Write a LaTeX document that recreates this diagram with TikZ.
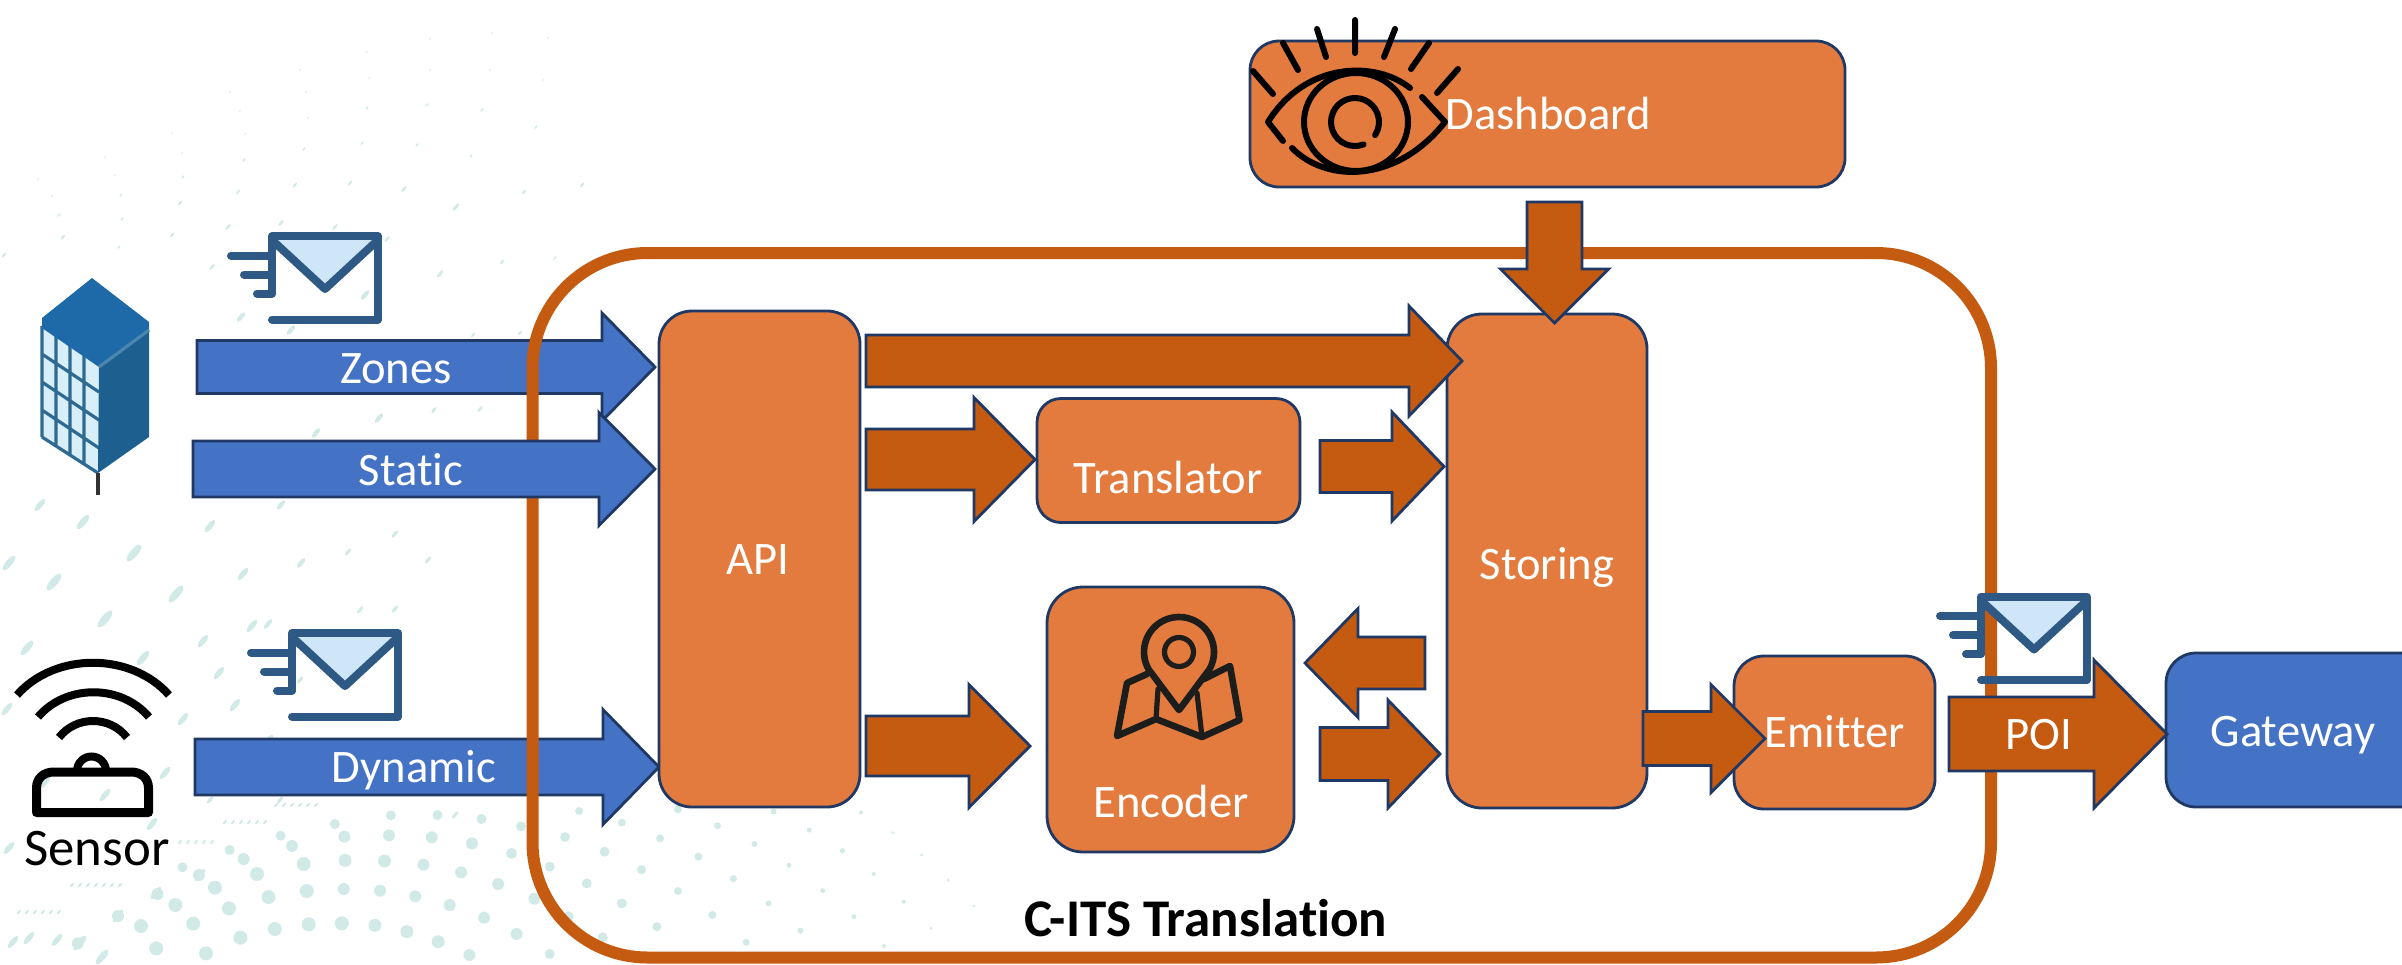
\documentclass[tikz,border=0pt]{standalone}
\usepackage{fontspec}
\setmainfont{Carlito}[Ligatures=NoCommon]
\usetikzlibrary{calc}
\definecolor{boxorange}{HTML}{E27B3D}
\definecolor{darkorange}{HTML}{C55A11}
\definecolor{boxblue}{HTML}{4472C4}
\definecolor{navy}{HTML}{203864}
\definecolor{envdark}{HTML}{2E5984}
\definecolor{envlight}{HTML}{CFE6F8}
\definecolor{dotteal}{HTML}{D2EAE7}
\definecolor{iconblack}{HTML}{1D1D1B}
\definecolor{bldglass}{HTML}{D8EFFA}
\definecolor{bldgrid}{HTML}{2F6A93}
\definecolor{bldwall}{HTML}{1D5F8E}
\definecolor{bldroof}{HTML}{1E6AA8}
\definecolor{bldedge}{HTML}{4A86AD}
\definecolor{bldpole}{HTML}{323232}
\tikzset{
  boxshape/.style={draw=navy,line width=1.4pt,inner sep=0pt,outer sep=0pt,rectangle},
  arrowshape/.style={draw=navy,line width=1.4pt,line join=miter,miter limit=10},
  orangefill/.style={fill=boxorange},
  bluefill/.style={fill=boxblue},
  darkfill/.style={fill=darkorange},
  lbl/.style={text=white,anchor=base,inner sep=0pt,font=\fontsize{23.3}{28}\selectfont},
  envline/.style={draw=envdark,line width=4pt,line cap=round,line join=round},
  eyeline/.style={draw=black,line width=3pt,line cap=round,line join=round},
  mapline/.style={draw=iconblack,line width=3.3pt,line cap=round,line join=round},
  wifi/.style={draw=black,line width=4pt},
  dotmark/.style={fill=dotteal,draw=none}
}
% name x1 y1 x2 y2 fillstyle radius(px)
\newcommand\boxnode[7]{%
  \node[boxshape,#6,rounded corners=#7*0.5pt,
    minimum width={(#4-#2)*0.5pt},minimum height={(#5-#3)*0.5pt}]
    (#1) at ({(#2+#4)/2},{(#3+#5)/2}) {};}
% start tip shafthalf headlength headhalf style (px)
\newcommand\blockarrow[6]{%
  \coordinate (hb) at ($(#2)!#4*0.5pt!(#1)$);
  \draw[arrowshape,#6]
    ($(#1)!#3*0.5pt!90:(#2)$) --
    ($(hb)!#3*0.5pt!-90:(#1)$) --
    ($(hb)!#5*0.5pt!-90:(#1)$) --
    (#2) --
    ($(hb)!#5*0.5pt!90:(#1)$) --
    ($(hb)!#3*0.5pt!90:(#1)$) --
    ($(#1)!#3*0.5pt!-90:(#2)$) -- cycle;}
\newcommand\envelope[2]{%
  \begin{scope}[shift={(#1,#2)}]
    \fill[envlight] (4,4) -- (53,50) -- (102,4) -- cycle;
    \draw[envline] (-41,19.5) -- (0,19.5) (-28,38.5) -- (0,38.5) (-15,57.5) -- (0,57.5);
    \draw[envline] (0,57.5) -- (0,0) -- (106,0) -- (106,83.5) -- (0,83.5);
    \draw[envline] (0,4) -- (53,53) -- (106,4);
  \end{scope}}
\begin{document}
\begin{tikzpicture}[x=0.5pt,y=-0.5pt]
\clip (0,0) rectangle (2402,964);
% --- faint background pattern
\foreach \a/\b/\r in {122/490/6,245/505/7,323/520/7,377/473/7,431/447/7,484/433/7,536/430/7,588/436/6.5,638/455/6.5,687/485/6.5,736/525/6,810/462/6,862/522/5,759/413/6,705/375/6,651/349/6,596/332/6,539/327/6,481/333/7,421/351/7,359/385/7,303/431/7,221/438/7,275/375/7,337/323/7,403/282/7,476/252/7,541/241/6.5,603/243/6.5,664/254/6,723/277/6,781/312/6,838/356/6,891/410/5.5,945/472/5,1030/440/4.5,975/370/5,920/310/5,862/260/5,802/220/5.5,740/190/6,677/172/6,610/166/6,540/170/6,458/198/6,382/237/6,312/285/6,247/342/6,185/408/6,440/167/5,360/210/5,286/262/5,525/132/5,613/106/5,686/105/5,755/117/5,817/139/5,886/171/5,948/215/5,1006/269/4.5,1063/333/4,1117/405/4,1170/487/3.5,1095/230/4,1150/296/3.5,1205/370/3,1255/452/3,1035/175/4,1125/137/3.5,1183/192/3,1237/256/2.5,1290/332/2.5,1339/410/2.5,1269/150/2.5,1321/212/2.5,1370/282/2,1417/365/2,1460/445/1.5,1386/498/2,908/93/4,975/128/4,1063/88/4,1213/95/3,1350/97/2,1400/158/1.5,1445/225/1.5,1487/300/1.5,1527/378/1.5}
  \fill[dotmark] ({\a/1.568},{\b/3+780}) circle[radius=\r];
\foreach \a/\b/\r in {134/553/7,54/582/7,105/619/7,176/594/7,27/648/6,143/658/6,243/574/5,301/563/4,203/641/5,252/626/5,83/522/6,40/505/5,9/563/6,210/526/5,281/505/4,395/534/3,348/552/3,395/609/3,428/560/3,268/624/4,219/673/5,183/719/5,165/773/5,152/824/5,7/709/5,45/782/5,105/795/5,9/848/5,268/741/5,200/875/5,156/893/5,118/916/5,80/943/6,57/940/5,29/938/5,13/942/5,102/957/6,235/705/5,300/680/3,330/645/3,360/610/3,210/800/3,280/800/3,330/780/3,390/815/3,455/815/3,
230/92/1,306/92/1,367/52/1,430/39/1,492/33/1,548/38/1,300/70/1,369/78/1,430/70/1,490/70/1,543/80/1,240/111/1,308/118/1,367/108/1.5,427/105/1.5,482/110/1.5,536/127/1.5,172/133/1,245/134/1,304/149/1.5,362/143/1.5,417/145/1.5,471/156/1.5,524/192/2,182/153/1,105/157/1,244/160/1.5,115/175/1,38/179/1,183/177/1.5,295/185/2,350/183/2,404/189/2.5,456/207/3,582/185/2,52/196/1,121/195/1.5,238/192/2,59/215/1.5,180/203/2,122/219/1.5,228/227/2.5,281/223/2.5,63/237/2,119/247/1.5,172/235/2,335/227/2.5,387/239/2.5,4/255/2,212/267/2.5,440/274/3,502/262/2,555/258/1.5,365/295/4,241/317/4,291/330/4,473/335/2,520/333/2,379/418/4,316/433/4,434/410/2.5,480/409/2.5,
19/912/2,27/912/2,35/912/2,43/912/2,51/912/2,59/912/2,72/885/2,80/885/2,88/885/2,96/885/2,104/885/2,112/885/2,120/885/2,180/842/2,188/842/2,196/842/2,204/842/2,212/842/2,225/822/2,233/822/2,241/822/2,249/822/2,257/822/2,265/822/2,276/805/2,284/805/2,292/805/2,300/805/2,308/805/2,316/805/2}
  \fill[dotmark,rotate around={50:(\a,\b)}] (\a,\b) ellipse[x radius=\r*1.5,y radius=\r*0.55];
% --- the two arrows that pass under the container line
\coordinate (zs) at (197,367);   \coordinate (zt) at (655,367);
\coordinate (ds) at (195,767);   \coordinate (dt) at (659,767);
\blockarrow{zs}{zt}{26.5}{53}{54}{bluefill}
\blockarrow{ds}{dt}{28}{56}{57.5}{bluefill}
% --- container
\draw[draw=darkorange,line width=6pt,rounded corners=57.5pt] (532.5,253) rectangle (1991,957.5);
% --- building
\fill[bldglass] (42,326) -- (99,367) -- (98,473) -- (42,437) -- cycle;
\draw[bldgrid,line width=1.6pt]
  (42,326) -- (42,437) (56,336) -- (56,446) (70,346) -- (70,455) (84,356) -- (84,464)
  (42,354) -- (99,392) (42,382) -- (99,420) (42,410) -- (99,448) (42,437) -- (98,473);
\fill[bldwall] (99,367) -- (149,330) -- (149,437) -- (98,473) -- cycle;
\fill[bldroof] (92,278) -- (149,322) -- (149,330) -- (99,367) -- (42,328) -- (42,318) -- cycle;
\draw[bldedge,line width=1.6pt] (99,367) -- (149,330);
\draw[bldpole,line width=2pt] (98,473) -- (98,495);
% --- sensor icon
\draw[wifi] (17,695) .. controls (55,652) and (131,652) .. (169,695);
\draw[wifi] (38,717) .. controls (66,684) and (121,684) .. (149,717);
\draw[wifi] (59,737.5) .. controls (76,715.5) and (110,715.5) .. (127,737.5);
\draw[draw=black,line width=4.5pt,line join=round] (36.5,812.5) -- (36.5,788) .. controls (36.5,778) and (44,772) .. (54,772) -- (131,772) .. controls (141,772) and (148.5,778) .. (148.5,788) -- (148.5,812.5) -- cycle;
\draw[draw=black,line width=4pt] (77,771) arc[start angle=180,end angle=360,radius=14.5];
\node[text=black,anchor=base,inner sep=0pt,font=\fontsize{26.4}{30}\selectfont] (sensorlabel) at (97,865) {Sensor};
% --- boxes
\boxnode{api}{659}{311}{860}{807}{orangefill}{33}
\boxnode{storing}{1447}{314}{1647}{808}{orangefill}{35}
\boxnode{translator}{1037}{398.5}{1300}{522.5}{orangefill}{24}
\boxnode{encoder}{1047}{587}{1294}{852}{orangefill}{36}
\boxnode{dashboard}{1250}{41}{1845}{187}{orangefill}{29}
\boxnode{emitter}{1734}{656}{1935}{809}{orangefill}{30}
\boxnode{gateway}{2166}{653}{2430}{807}{bluefill}{30}
% --- named ends of the arrows
\coordinate (ss) at (193,469);   \coordinate (st) at (655,469);
\coordinate (a1s) at (866,361);  \coordinate (a1t) at (1462,361);
\coordinate (a2s) at (866,459.5);\coordinate (a2t) at (1035,459.5);
\coordinate (a3s) at (1320,466.5);\coordinate (a3t) at (1444,466.5);
\coordinate (a4s) at (866,746);  \coordinate (a4t) at (1030,746);
\coordinate (a5s) at (1425,663); \coordinate (a5t) at (1305,663);
\coordinate (a6s) at (1320,754); \coordinate (a6t) at (1440,754);
\coordinate (a7s) at (1554.5,202);\coordinate (a7t) at (1554.5,323);
\coordinate (a8s) at (1643,738.5);\coordinate (a8t) at (1765,738.5);
\coordinate (a9s) at (1949,734); \coordinate (a9t) at (2167,734);
% --- arrows
\blockarrow{ss}{st}{28}{56}{56.5}{bluefill}
\blockarrow{a1s}{a1t}{26}{53}{55}{darkfill}
\blockarrow{a2s}{a2t}{30.5}{61}{62}{darkfill}
\blockarrow{a3s}{a3t}{26}{52}{54.5}{darkfill}
\blockarrow{a4s}{a4t}{30}{61}{61.5}{darkfill}
\blockarrow{a5s}{a5t}{26}{53}{54.5}{darkfill}
\blockarrow{a6s}{a6t}{26.5}{52}{54}{darkfill}
\blockarrow{a7s}{a7t}{27.5}{54}{54}{darkfill}
\blockarrow{a8s}{a8t}{27}{54}{54}{darkfill}
\blockarrow{a9s}{a9t}{37}{73}{74}{darkfill}
% --- envelopes
\envelope{272}{236}
\envelope{292}{633}
\envelope{1981}{596.5}
% --- eye icon
\draw[eyeline] (1410,88) .. controls (1375,60) and (1305,62) .. (1268,122) -- (1283,141);
\draw[eyeline] (1292,148) .. controls (1325,182) and (1395,185) .. (1445,122) -- (1422,97);
\draw[eyeline] (1356,122) ellipse[x radius=52,y radius=49];
\draw[eyeline] (1355,122) ++(69:24) arc[start angle=69,end angle=393,radius=24];
\draw[eyeline] (1355,20) -- (1355,53) (1317,29) -- (1326,57) (1395,29) -- (1384,57)
  (1283,43) -- (1298,70) (1429,43) -- (1411,69) (1253,71) -- (1273,94) (1458,69) -- (1437,93);
% --- map icon
\draw[mapline] (1147,674) -- (1127,683) -- (1117,736) -- (1156,719) -- (1202,737) -- (1239.5,720) -- (1230,666) -- (1204,679);
\draw[mapline,line width=2.6pt] (1156,719) -- (1158,689) (1202,737) -- (1197,693);
\draw[mapline] (1179,710) -- (1148.7,669.5) arc[start angle=150,end angle=390,radius=35] -- cycle;
\draw[mapline,line width=2.6pt] (1179,652) circle[radius=14.5];
% --- labels
\node[lbl] (zoneslabel) at (396,383) {Zones};
\node[lbl] (staticlabel) at (411,485) {Static};
\node[lbl] (dynamiclabel) at (414,782) {Dynamic};
\node[lbl] (apilabel) at (758,574) {API};
\node[lbl] (storinglabel) at (1547,579) {Storing};
\node[lbl] (translatorlabel) at (1168,493) {Translator};
\node[lbl] (encoderlabel) at (1171,817) {Encoder};
\node[lbl] (dashboardlabel) at (1548,129) {Dashboard};
\node[lbl] (emitterlabel) at (1835,747) {Emitter};
\node[lbl] (poilabel) at (2039,749) {POI};
\node[lbl] (gatewaylabel) at (2293,746) {Gateway};
\node[text=black,anchor=base,inner sep=0pt,font=\fontsize{26.5}{30}\bfseries\selectfont] (title) at (1206,936) {C-ITS Translation};
\end{tikzpicture}
\end{document}
